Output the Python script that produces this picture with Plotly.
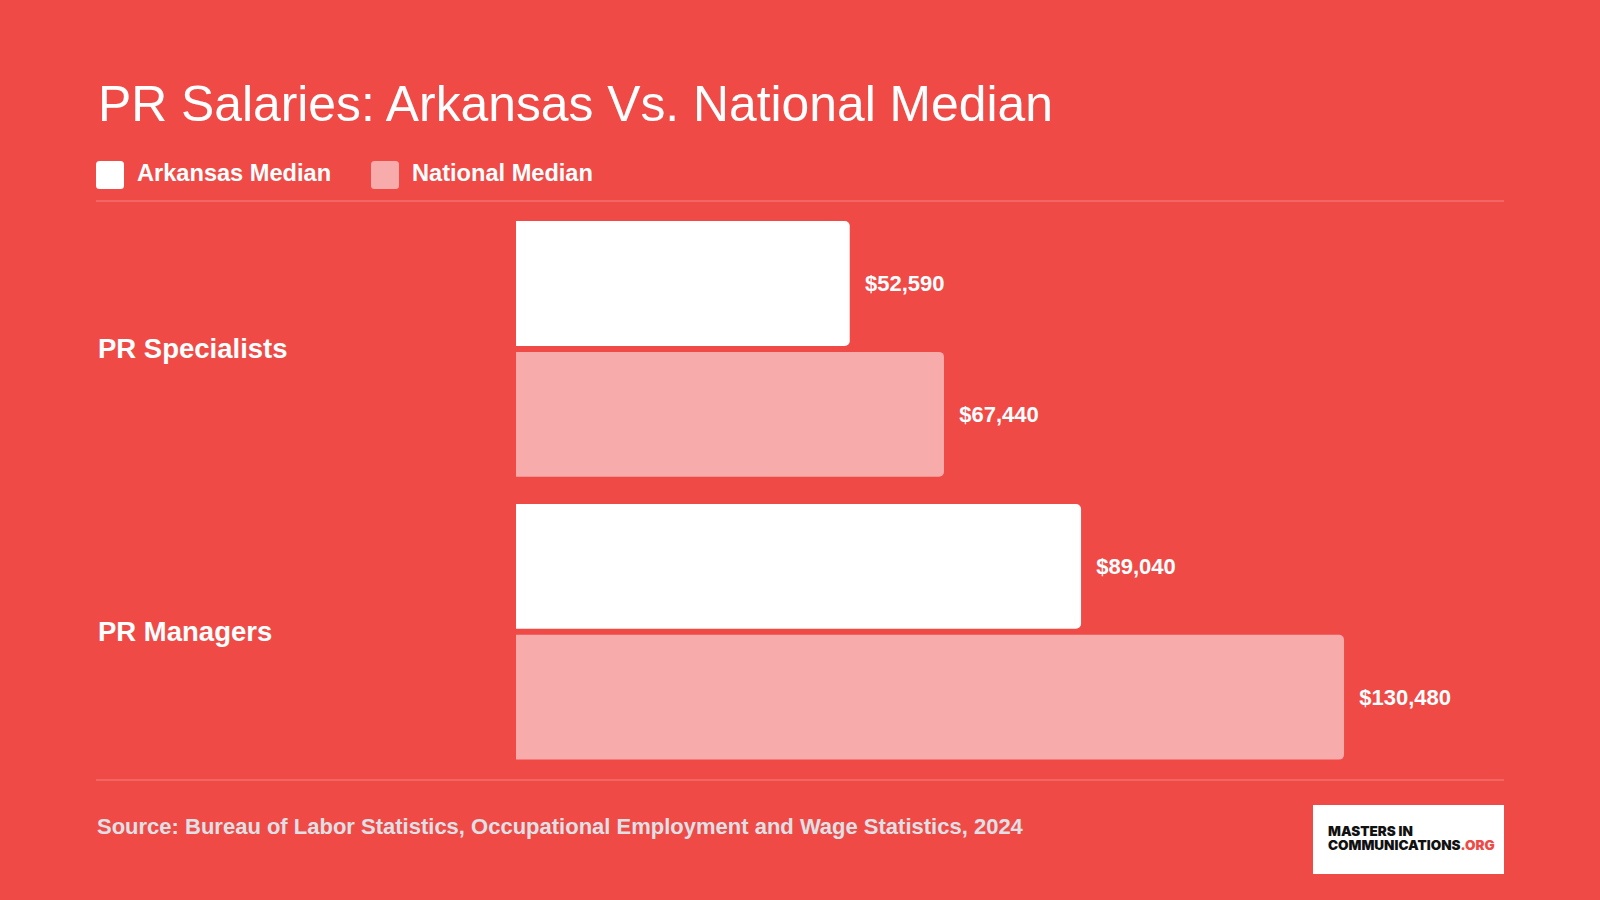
import plotly.graph_objects as go

W, H = 1600, 900

categories = ["PR Specialists", "PR Managers"]
arkansas = [52590, 89040]
national = [67440, 130480]
series_names = ["Arkansas Median", "National Median"]

title_text = "PR Salaries: Arkansas Vs. National Median"
source_text = "Source: Bureau of Labor Statistics, Occupational Employment and Wage Statistics, 2024"

BG = "#F04A47"
WHITE = "#FFFFFF"
PINK = "#F7ACAB"
SRC = "#DDE0E5"
SEP = "rgba(255,255,255,0.15)"
FONT = "Liberation Sans, Arial, Helvetica, sans-serif"


def px(x):
    return x / W


def py(y):
    return 1 - y / H


def fmt(v):
    return "\u00a0\u00a0$" + f"{v:,}"


fig = go.Figure()
for name, vals, col in [(series_names[0], arkansas, WHITE), (series_names[1], national, PINK)]:
    fig.add_trace(go.Bar(
        y=categories, x=vals, orientation="h", name=name,
        marker=dict(color=col, line=dict(width=0), cornerradius=5),
        text=[fmt(v) for v in vals], textposition="outside",
        textfont=dict(family=FONT, size=22, color=WHITE, weight="bold"),
        cliponaxis=False, showlegend=False, hoverinfo="skip",
    ))

x0, x1 = 516, 1504
y_top, y_bot = 207.45, 773.25
fig.update_layout(
    width=W, height=H,
    margin=dict(l=0, r=0, t=0, b=0),
    paper_bgcolor=BG, plot_bgcolor=BG,
    barmode="group", bargap=0.0753, bargroupgap=0.0459,
    xaxis=dict(domain=[px(x0), px(x1)], range=[0, (x1 - x0) / 0.006346],
               visible=False, fixedrange=True),
    yaxis=dict(domain=[py(y_bot), py(y_top)], autorange="reversed",
               visible=False, fixedrange=True, type="category"),
    font=dict(family=FONT, color=WHITE),
)

shapes = []
# separators
for yy in (201, 780):
    shapes.append(dict(type="line", xref="paper", yref="paper",
                       x0=px(96), x1=px(1504), y0=py(yy), y1=py(yy),
                       line=dict(color=SEP, width=2)))


def rrect(xa, ya, xb, yb, r, color):
    # rounded rectangle path in paper coords (pixel inputs)
    rx, ry = r / W, r / H
    a, b, c, d = px(xa), py(yb), px(xb), py(ya)
    path = (f"M {a+rx},{b} L {c-rx},{b} Q {c},{b} {c},{b+ry} L {c},{d-ry} Q {c},{d} {c-rx},{d} "
            f"L {a+rx},{d} Q {a},{d} {a},{d-ry} L {a},{b+ry} Q {a},{b} {a+rx},{b} Z")
    return dict(type="path", xref="paper", yref="paper", path=path,
                fillcolor=color, line=dict(width=0), layer="above")


shapes.append(rrect(96, 161, 124, 189, 3.5, WHITE))
shapes.append(rrect(371, 161, 399, 189, 3.5, PINK))
# logo box
shapes.append(dict(type="rect", xref="paper", yref="paper",
                   x0=px(1313), x1=px(1504), y0=py(874), y1=py(805),
                   fillcolor=WHITE, line=dict(width=0)))

annotations = []
annotations.append(dict(text=title_text, xref="paper", yref="paper", x=px(95.5), y=py(104.5),
                        xanchor="left", yanchor="middle", showarrow=False,
                        font=dict(family=FONT, size=49.8, color=WHITE)))
annotations.append(dict(text=f"<b>{series_names[0]}</b>", xref="paper", yref="paper", x=px(135), y=py(173),
                        xanchor="left", yanchor="middle", showarrow=False,
                        font=dict(family=FONT, size=23.6, color=WHITE)))
annotations.append(dict(text=f"<b>{series_names[1]}</b>", xref="paper", yref="paper", x=px(410), y=py(173),
                        xanchor="left", yanchor="middle", showarrow=False,
                        font=dict(family=FONT, size=23.6, color=WHITE)))
for cat in categories:
    annotations.append(dict(text=f"<b>{cat}</b>", xref="paper", yref="y", x=px(95.5), y=cat,
                            xanchor="left", yanchor="middle", showarrow=False,
                            font=dict(family=FONT, size=27.5, color=WHITE)))
annotations.append(dict(text=f"<b>{source_text}</b>", xref="paper", yref="paper", x=px(95), y=py(826.7),
                        xanchor="left", yanchor="middle", showarrow=False,
                        font=dict(family=FONT, size=22, color=SRC)))
LOGO_FONT = "Inter, Montserrat, Roboto, sans-serif"
annotations.append(dict(text="MASTERS IN", xref="paper", yref="paper", x=px(1325.5), y=py(831.2),
                        xanchor="left", yanchor="middle", showarrow=False,
                        font=dict(family=LOGO_FONT, size=13.5, color="#111111", weight=900)))
annotations.append(dict(text="COMMUNICATIONS<span style='color:#F04A47'>.ORG</span>", xref="paper", yref="paper",
                        x=px(1325.5), y=py(845), xanchor="left", yanchor="middle", showarrow=False,
                        font=dict(family=LOGO_FONT, size=13.5, color="#111111", weight=900)))

fig.update_layout(shapes=shapes, annotations=annotations)
fig.write_html("out.html", include_plotlyjs=True, config={"displayModeBar": False})
